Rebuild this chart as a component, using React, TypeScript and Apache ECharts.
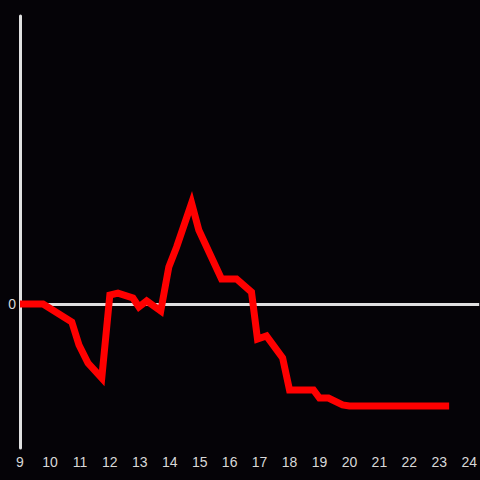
import React, { useEffect, useRef } from "react";
import * as echarts from "echarts";

const hours = [9.0, 9.77, 10.73, 10.97, 11.27, 11.73, 12.0, 12.27, 12.77, 12.97, 13.23, 13.7, 13.97, 14.23, 14.73, 14.97, 15.73, 16.23, 16.73, 16.93, 17.23, 17.77, 18.0, 18.8, 19.0, 19.3, 19.77, 20.0, 23.33];
const values = [0, 0, -12.5, -28.5, -41, -51.4, 6.25, 7.6, 4.2, -2.1, 2.1, -4.9, 25.7, 39.6, 70.1, 51.4, 17.4, 17.4, 8.3, -24.3, -22.2, -37.5, -59.7, -59.7, -65.3, -65.3, -70.1, -70.8, -70.8];
const yLabels = ["0"];

export default function App() {
  const ref = useRef<HTMLDivElement>(null);
  useEffect(() => {
    document.body.style.margin = "0";
    const chart = echarts.init(ref.current!, null, { renderer: "svg" });
    const data = hours.map((h, i) => [h, values[i]]);
    chart.setOption({
      animation: false,
      backgroundColor: "#050307",
      grid: { left: 20, right: 0, top: 16, bottom: 32 },
      xAxis: {
        type: "value",
        min: 9,
        max: 24.333,
        interval: 1,
        axisLine: { show: false },
        axisTick: { show: false },
        splitLine: { show: false },
        axisLabel: {
          color: "#d8d8d8",
          fontSize: 14,
          fontFamily: "Liberation Sans, Arial, sans-serif",
          margin: 7,
          showMaxLabel: false,
          formatter: (v: number) => (Number.isInteger(v) ? String(v) : ""),
        },
      },
      yAxis: {
        type: "value",
        min: -100,
        max: 200,
        interval: 100,
        axisLine: { show: true, onZero: false, lineStyle: { color: "#e0e0e0", width: 3 } },
        axisTick: { show: false },
        splitLine: { show: false },
        axisLabel: {
          color: "#d8d8d8",
          fontSize: 14,
          fontFamily: "Liberation Sans, Arial, sans-serif",
          margin: 4,
          formatter: (v: number) => (yLabels.includes(String(v)) ? String(v) : ""),
        },
      },
      series: [
        {
          type: "line",
          data,
          showSymbol: false,
          lineStyle: { color: "#ff0000", width: 7, cap: "butt", join: "miter" },
          z: 3,
          markLine: {
            silent: true,
            symbol: "none",
            label: { show: false },
            lineStyle: { color: "#e0e0e0", width: 3, type: "solid" },
            data: [{ yAxis: 0 }],
            z: 1,
          },
        },
      ],
    });
    return () => chart.dispose();
  }, []);
  return <div ref={ref} style={{ width: 480, height: 480 }} />;
}
